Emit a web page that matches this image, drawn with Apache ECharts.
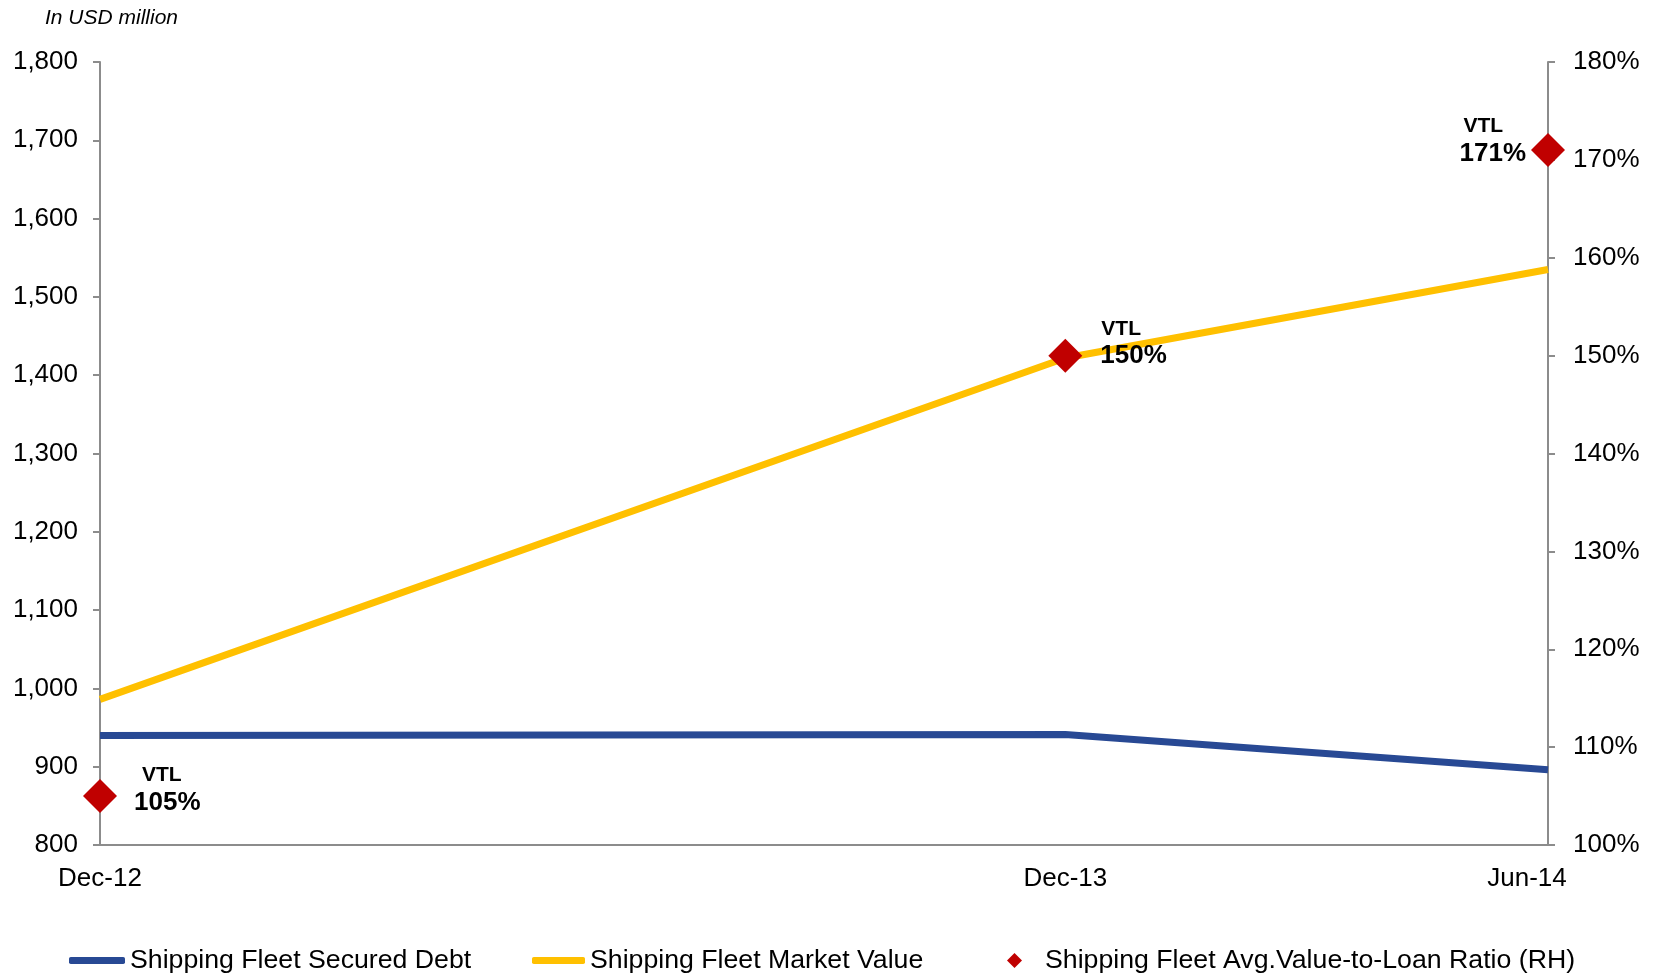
<!DOCTYPE html>
<html>
<head>
<meta charset="utf-8">
<title>Shipping Fleet Secured Debt vs Market Value</title>
<script src="https://cdn.jsdelivr.net/npm/echarts@6/dist/echarts.min.js"></script>
<style>
  html, body { margin: 0; padding: 0; background: #ffffff; }
  #chart { width: 1659px; height: 974px; }
</style>
</head>
<body>
<div id="chart"></div>
<script>
// Reporting dates and their month offset from Dec-12 (keeps the time spacing)
const periods = ['Dec-12', 'Dec-13', 'Jun-14'];
const monthOffsets = [0, 12, 18];

// Values in USD million
const securedDebt = [940, 941, 896];
const marketValue = [986, 1422, 1535];

// Average value-to-loan ratio, %
const vtlRatio = [105, 150, 171];

const FONT = '"Liberation Sans", Arial, Helvetica, sans-serif';
const AXIS_GREY = '#8c8c8c';

// Placement of the VTL call-outs beside each diamond
const vtlLabelPlacement = [
  { position: 'right', distance: 17, offset: [0, -5],  indent: 8 },
  { position: 'right', distance: 18, offset: [0, -11], indent: 1 },
  { position: 'left',  distance: 5,  offset: [0, -8],  indent: 4 }
];

const toPoints = (vals) => vals.map((v, i) => [monthOffsets[i], v]);

const vtlData = vtlRatio.map((v, i) => {
  const p = vtlLabelPlacement[i];
  return {
    value: [monthOffsets[i], v],
    label: {
      show: true,
      position: p.position,
      distance: p.distance,
      offset: p.offset,
      formatter: '{a|VTL}\n{b|' + v + '%}',
      rich: {
        a: { fontFamily: FONT, fontWeight: 'bold', fontSize: 21, lineHeight: 23, color: '#000',
             align: 'left', padding: [0, 0, 0, p.indent] },
        b: { fontFamily: FONT, fontWeight: 'bold', fontSize: 26, lineHeight: 31, color: '#000', align: 'left' }
      }
    }
  };
});

const chart = echarts.init(document.getElementById('chart'), null, { renderer: 'canvas' });

const legendText = { fontFamily: FONT, fontSize: 26.7, color: '#000' };

chart.setOption({
  animation: false,
  backgroundColor: '#ffffff',
  title: {
    text: 'In USD million',
    left: 40,
    top: 3,
    textStyle: { fontFamily: FONT, fontStyle: 'italic', fontWeight: 'normal', fontSize: 21, color: '#000' }
  },
  grid: { left: 100, right: 111, top: 62, bottom: 129, containLabel: false },
  legend: [
    {
      left: 64, top: 942, itemWidth: 56, itemHeight: 7, itemGap: 0,
      data: [{ name: 'Shipping Fleet Secured Debt', icon: 'roundRect' }],
      textStyle: legendText
    },
    {
      left: 527, top: 942, itemWidth: 53, itemHeight: 7, itemGap: 0,
      data: [{ name: 'Shipping Fleet Market Value', icon: 'roundRect' }],
      textStyle: legendText
    },
    {
      left: 1002, top: 942, itemWidth: 15, itemHeight: 15, itemGap: 0,
      data: [{ name: 'Shipping Fleet Avg.Value-to-Loan Ratio (RH)', icon: 'diamond' }],
      textStyle: Object.assign({ padding: [0, 0, 0, 18] }, legendText)
    }
  ],
  xAxis: {
    type: 'value',
    min: 0,
    max: 18,
    interval: 6,
    splitLine: { show: false },
    axisTick: { show: false },
    axisLine: { show: true, lineStyle: { color: AXIS_GREY, width: 2 } },
    axisLabel: {
      margin: 21,
      fontFamily: FONT,
      fontSize: 26,
      color: '#000',
      formatter: (val) => {
        const idx = monthOffsets.indexOf(val);
        if (idx < 0) return '';
        return idx === periods.length - 1 ? '{last|' + periods[idx] + '}' : periods[idx];
      },
      rich: {
        last: { fontFamily: FONT, fontSize: 26, color: '#000', padding: [0, 42, 0, 0] }
      }
    }
  },
  yAxis: [
    {
      type: 'value',
      min: 800,
      max: 1800,
      interval: 100,
      position: 'left',
      splitLine: { show: false },
      axisLine: { show: true, lineStyle: { color: AXIS_GREY, width: 2 } },
      axisTick: { show: true, length: 7, lineStyle: { color: AXIS_GREY, width: 2 } },
      axisLabel: {
        margin: 22,
        fontFamily: FONT,
        fontSize: 26,
        color: '#000',
        formatter: (v) => v.toLocaleString('en-US')
      }
    },
    {
      type: 'value',
      min: 100,
      max: 180,
      interval: 10,
      position: 'right',
      splitLine: { show: false },
      axisLine: { show: true, lineStyle: { color: AXIS_GREY, width: 2 } },
      axisTick: { show: true, length: 7, lineStyle: { color: AXIS_GREY, width: 2 } },
      axisLabel: {
        margin: 25,
        fontFamily: FONT,
        fontSize: 26,
        color: '#000',
        formatter: '{value}%'
      }
    }
  ],
  series: [
    {
      name: 'Shipping Fleet Secured Debt',
      type: 'line',
      yAxisIndex: 0,
      data: toPoints(securedDebt),
      symbol: 'none',
      color: '#284994',
      itemStyle: { color: '#284994' },
      lineStyle: { color: '#284994', width: 7 },
      z: 2
    },
    {
      name: 'Shipping Fleet Market Value',
      type: 'line',
      yAxisIndex: 0,
      data: toPoints(marketValue),
      symbol: 'none',
      color: '#FFC000',
      itemStyle: { color: '#FFC000' },
      lineStyle: { color: '#FFC000', width: 7 },
      z: 3
    },
    {
      name: 'Shipping Fleet Avg.Value-to-Loan Ratio (RH)',
      type: 'scatter',
      yAxisIndex: 1,
      data: vtlData,
      symbol: 'diamond',
      symbolSize: 34,
      color: '#C00000',
      itemStyle: { color: '#C00000', opacity: 1 },
      z: 5
    }
  ]
});
</script>
</body>
</html>
